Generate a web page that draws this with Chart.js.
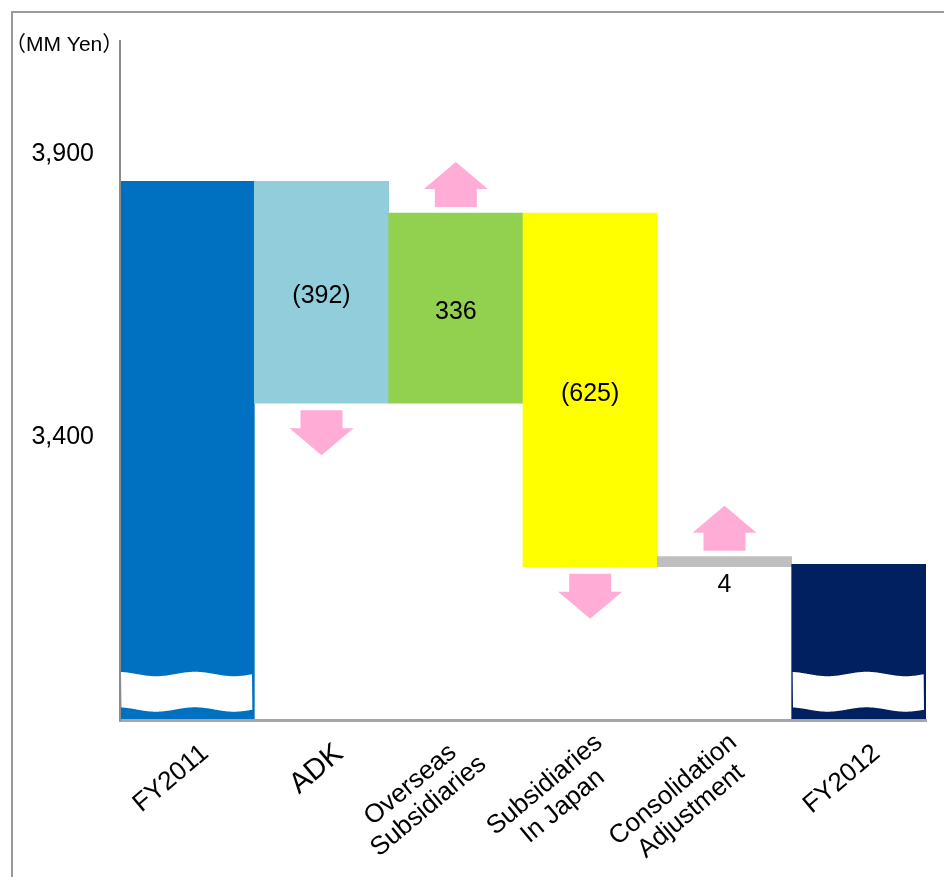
<!DOCTYPE html>
<html>
<head>
<meta charset="utf-8">
<script src="https://cdn.jsdelivr.net/npm/chart.js@4/dist/chart.umd.min.js"></script>
<style>
  html, body { margin: 0; padding: 0; background: #ffffff; }
  #wrap { width: 944px; height: 877px; }
</style>
</head>
<body>
<div id="wrap"><canvas id="bridge" width="944" height="877"></canvas></div>
<script>
// Operating profit bridge, FY2011 -> FY2012 (MM Yen)
const categories = [
  ['FY2011'],
  ['ADK'],
  ['Overseas', 'Subsidiaries'],
  ['Subsidiaries', 'In Japan'],
  ['Consolidation', 'Adjustment'],
  ['FY2012']
];
const openingValue = 3852;
const changeValues = [-392, 336, -625, 4];
const yTickValues = [3400, 3900];
const yTickLabels = ['3,400', '3,900'];
const unitLabel = '（MM Yen）';

// styling
const barColors = ['#0070C0', '#92CDDC', '#92D050', '#FFFF00', '#BFBFBF', '#002060'];
const tickFontSizes = [26, 29, 26, 26, 26, 26];
const FONT = '"Liberation Sans", Arial, "Noto Sans CJK JP", sans-serif';
const ARROW_COLOR = '#FFADD6';
const AXIS_MIN = 2900;
const AXIS_MAX = 4100;

// floating [low, high] ranges for the waterfall
const ranges = [[AXIS_MIN, openingValue]];
let running = openingValue;
changeValues.forEach(v => {
  const next = running + v;
  ranges.push([Math.min(running, next), Math.max(running, next)]);
  running = next;
});
ranges.push([AXIS_MIN, running]);

function formatChange(v) {
  return v < 0 ? '(' + Math.abs(v) + ')' : String(v);
}

function drawArrow(ctx, cx, yStart, dir) {
  // dir = -1 points up (yStart is shaft bottom), +1 points down (yStart is shaft top)
  const shaftW = 42, headW = 64, shaftH = 18, headH = 27;
  const y1 = yStart + dir * shaftH;
  const tip = yStart + dir * (shaftH + headH);
  ctx.beginPath();
  ctx.moveTo(cx - shaftW / 2, yStart);
  ctx.lineTo(cx - shaftW / 2, y1);
  ctx.lineTo(cx - headW / 2, y1);
  ctx.lineTo(cx, tip);
  ctx.lineTo(cx + headW / 2, y1);
  ctx.lineTo(cx + shaftW / 2, y1);
  ctx.lineTo(cx + shaftW / 2, yStart);
  ctx.closePath();
  ctx.fillStyle = ARROW_COLOR;
  ctx.fill();
}

const framePlugin = {
  id: 'frame',
  beforeDraw(chart) {
    const ctx = chart.ctx;
    ctx.save();
    ctx.fillStyle = '#ffffff';
    ctx.fillRect(0, 0, chart.width, chart.height);
    ctx.strokeStyle = '#9a9a9a';
    ctx.lineWidth = 2;
    ctx.strokeRect(12, 12, chart.width + 20, chart.height + 20);
    ctx.restore();
  }
};

const decorPlugin = {
  id: 'decor',
  afterDatasetsDraw(chart) {
    const ctx = chart.ctx;
    const meta = chart.getDatasetMeta(0);
    ctx.save();

    // broken-axis wave on the two total bars
    [0, meta.data.length - 1].forEach(i => {
      const el = meta.data[i];
      const left = el.x - el.width / 2 + 1;
      const right = el.x + el.width / 2 - 2;
      const base = el.base;
      const wave = (x, mid) => mid + 2.2 * Math.cos(2 * Math.PI * (x - left - 35) / 78);
      ctx.beginPath();
      for (let x = left; x <= right; x += 1) {
        const y = wave(x, base - 46);
        if (x === left) ctx.moveTo(x, y); else ctx.lineTo(x, y);
      }
      for (let x = right; x >= left; x -= 1) {
        ctx.lineTo(x, wave(x, base - 10.5));
      }
      ctx.closePath();
      ctx.fillStyle = '#ffffff';
      ctx.fill();
    });

    // change arrows and value labels
    changeValues.forEach((v, k) => {
      const el = meta.data[k + 1];
      const top = Math.min(el.y, el.base);
      const bottom = Math.max(el.y, el.base);
      if (v > 0) drawArrow(ctx, el.x, top - 6, -1);
      else drawArrow(ctx, el.x, bottom + 7, 1);

      ctx.fillStyle = '#000000';
      ctx.font = '25px ' + FONT;
      ctx.textAlign = 'center';
      if (bottom - top > 30) {
        ctx.textBaseline = 'middle';
        ctx.fillText(formatChange(v), el.x, (top + bottom) / 2 + 4);
      } else {
        ctx.textBaseline = 'top';
        ctx.fillText(formatChange(v), el.x, bottom + 6);
      }
    });
    ctx.restore();
  },
  afterDraw(chart) {
    const ctx = chart.ctx;
    const xs = chart.scales.x;
    const angle = 40 * Math.PI / 180;
    ctx.save();
    ctx.fillStyle = '#000000';

    // rotated category labels
    categories.forEach((lines, i) => {
      const px = xs.getPixelForValue(i) + 18;
      const py = xs.top + 30;
      ctx.save();
      ctx.translate(px, py);
      ctx.rotate(-angle);
      ctx.font = tickFontSizes[i] + 'px ' + FONT;
      ctx.textAlign = 'center';
      ctx.textBaseline = 'middle';
      const maxW = Math.max(...lines.map(t => ctx.measureText(t).width));
      lines.forEach((t, j) => {
        ctx.fillText(t, -maxW / 2, (j - (lines.length - 1) / 2) * 28);
      });
      ctx.restore();
    });

    // unit caption
    ctx.font = '21px ' + FONT;
    ctx.textAlign = 'left';
    ctx.textBaseline = 'middle';
    ctx.fillText(unitLabel, 5, chart.chartArea.top + 4);
    ctx.restore();
  }
};

new Chart(document.getElementById('bridge'), {
  type: 'bar',
  data: {
    labels: categories,
    datasets: [{
      data: ranges,
      backgroundColor: barColors,
      borderWidth: 0,
      barPercentage: 1,
      categoryPercentage: 1,
      minBarLength: 10
    }]
  },
  options: {
    responsive: false,
    animation: false,
    devicePixelRatio: 1,
    layout: { padding: { top: 41, right: 18, left: 0, bottom: 0 } },
    plugins: {
      legend: { display: false },
      tooltip: { enabled: false }
    },
    scales: {
      x: {
        grid: { display: false, drawTicks: false },
        border: { display: true, color: '#a6a6a6', width: 3, z: 1 },
        ticks: { display: false },
        afterFit(scale) { scale.height = 157; }
      },
      y: {
        min: AXIS_MIN,
        max: AXIS_MAX,
        grid: { display: false, drawTicks: false },
        border: { display: true, color: '#8c8c8c', width: 2, z: 1 },
        afterBuildTicks(scale) {
          scale.ticks = yTickValues.map(v => ({ value: v }));
        },
        ticks: {
          padding: 26,
          color: '#000000',
          font: { size: 25, family: FONT },
          callback(value) {
            const idx = yTickValues.indexOf(value);
            return idx >= 0 ? yTickLabels[idx] : '';
          }
        },
        afterFit(scale) { scale.width = 120; }
      }
    }
  },
  plugins: [framePlugin, decorPlugin]
});
</script>
</body>
</html>
